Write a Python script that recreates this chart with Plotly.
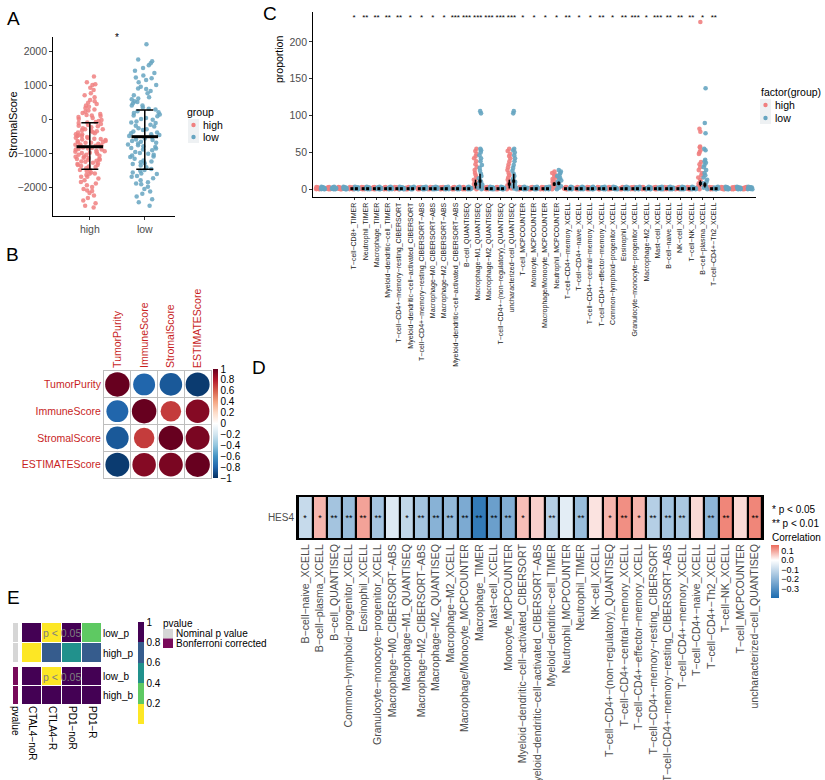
import numpy as np
import plotly.graph_objects as go

W, H = 825, 780
FONT = "Liberation Sans, Arial, sans-serif"
HIGH = "#F08080"
LOW = "#66A5C1"
RED_TXT = "#C81E1E"

def xd(a, b):
    return [a / W, b / W]

def yd(t, b):
    return [1 - b / H, 1 - t / H]

def px(x):
    return x / W

def py(y):
    return 1 - y / H

def mn(s):
    return s.replace("-", "\u2212")

# ---------------- Panel A data ----------------
a_groups = ["high", "low"]
a_high = [1250, 1080, 1020, 1000, 920, 850, 760, 700, 640, 560, 520, 480, 440, 400, 360, 320,
          280, 250, 210, 180, 150, 120, 90, 60, 30, 0, -30, -60, -90, -120, -150, -180, -210,
          -240, -270, -300, -330, -360, -390, -420, -450, -480, -500, -530, -560, -590, -620,
          -650, -680, -700, -730, -760, -790, -810, -840, -870, -900, -930, -960, -990, -1020,
          -1050, -1080, -1110, -1140, -1170, -1200, -1230, -1260, -1290, -1320, -1350, -1380,
          -1410, -1450, -1490, -1530, -1570, -1610, -1650, -1700, -1750, -1800, -1850, -1900,
          -1950, -2000, -2060, -2120, -2180, -2250, -2320, -2400, -2480, -2550, -2600,
          -400, -600, -800, -900, -1000, -1100, -1200, -700, -500, -300, -1300, -1500, -850,
          -950, -1050, -650, -750, -550, -450, -350, -1150, -1250, -1400, -1600,
          -200, -100, 100, -880, -980, -1180, -1350, -1700, -2100, -780, -680, -580]
a_low = [2200, 1750, 1700, 1640, 1580, 1500, 1420, 1350, 1280, 1220, 1150, 1080, 1000, 950,
         880, 820, 760, 700, 640, 580, 520, 460, 400, 340, 280, 230, 180, 130, 80, 30, -20,
         -70, -120, -170, -220, -270, -320, -370, -420, -470, -520, -570, -620, -670, -720,
         -770, -820, -870, -920, -970, -1020, -1070, -1120, -1170, -1220, -1270, -1320, -1370,
         -1420, -1470, -1520, -1570, -1620, -1680, -1740, -1800, -1860, -1920, -1990, -2060,
         -2130, -2200, -2280, -2360, -2450, -2550, -300, -500, -700, -900, -1100, -200, -400,
         -600, -800, -1000, 0, 200, 400, -1300, -1500, 600, 1200, -1700, -1900,
         -100, 100, 300, 500, -650, -750, -1250, -1050, -850, -450, 900, -1600]
a_center = [-815, -520]
a_err_up = [707, 785]
a_err_dn = [665, 960]

# ---------------- Panel B data ----------------
b_names = ["TumorPurity", "ImmuneScore", "StromalScore", "ESTIMATEScore"]
b_corr = [[1.00, -0.80, -0.85, -0.96],
          [-0.80, 1.00, 0.70, 0.92],
          [-0.85, 0.70, 1.00, 0.95],
          [-0.96, 0.92, 0.95, 1.00]]
b_palette = ["#053061", "#2166AC", "#4393C3", "#92C5DE", "#D1E5F0", "#FFFFFF",
             "#FDDBC7", "#F4A582", "#D6604D", "#B2182B", "#67001F"]
b_ticks = [1, 0.8, 0.6, 0.4, 0.2, 0, -0.2, -0.4, -0.6, -0.8, -1]

# ---------------- Panel C data ----------------
c_cells = ["T-cell-CD8+_TIMER", "Neutrophil_TIMER", "Macrophage_TIMER",
           "Myeloid-dendritic-cell_TIMER", "T-cell-CD4+-memory-resting_CIBERSORT",
           "Myeloid-dendritic-cell-activated_CIBERSORT",
           "T-cell-CD4+-memory-resting_CIBERSORT-ABS", "Macrophage-M0_CIBERSORT-ABS",
           "Macrophage-M2_CIBERSORT-ABS", "Myeloid-dendritic-cell-activated_CIBERSORT-ABS",
           "B-cell_QUANTISEQ", "Macrophage-M1_QUANTISEQ", "Macrophage-M2_QUANTISEQ",
           "T-cell-CD4+-(non-regulatory)_QUANTISEQ", "uncharacterized-cell_QUANTISEQ",
           "T-cell_MCPCOUNTER", "Monocyte_MCPCOUNTER", "Macrophage/Monocyte_MCPCOUNTER",
           "Neutrophil_MCPCOUNTER", "T-cell-CD4+-memory_XCELL", "T-cell-CD4+-naive_XCELL",
           "T-cell-CD4+-central-memory_XCELL", "T-cell-CD4+-effector-memory_XCELL",
           "Common-lymphoid-progenitor_XCELL", "Eosinophil_XCELL",
           "Granulocyte-monocyte-progenitor_XCELL", "Macrophage-M2_XCELL", "Mast-cell_XCELL",
           "B-cell-naive_XCELL", "NK-cell_XCELL", "T-cell-NK_XCELL", "B-cell-plasma_XCELL",
           "T-cell-CD4+-Th2_XCELL"]
c_stars = ["*", "**", "**", "**", "**", "*", "*", "*", "*", "***", "***", "***", "***", "***",
           "***", "*", "*", "*", "*", "**", "*", "*", "**", "*", "**", "***", "*", "***", "**",
           "**", "**", "*", "**"]
c_pad_left = 3
c_pad_right = 3
c_base_high = [0, 0.2, 0.4, 0.7, 1.0, 1.3, 1.7, 2.1, 2.6, 3.0]
c_base_low = [0, 0.2, 0.5, 0.8, 1.1, 1.5, 1.9, 2.3, 2.8, 3.4]
c_spike_high = {
    "Macrophage-M1_QUANTISEQ": [0, 1, 2, 3, 5, 7, 9, 11, 13, 16, 19, 22, 26, 30, 34, 38, 42, 45, 48, 52, 55],
    "uncharacterized-cell_QUANTISEQ": [0, 1, 2, 3, 5, 7, 9, 11, 13, 16, 19, 22, 26, 30, 34, 38, 42, 45, 48, 52, 55],
    "Neutrophil_MCPCOUNTER": [0, 2, 4, 6, 8, 10, 12, 14, 16, 18, 20, 22, 24],
    "B-cell-plasma_XCELL": [0, 2, 4, 6, 8, 10, 13, 16, 19, 22, 26, 30, 34, 37, 48, 50, 53, 57, 58, 78, 82, 227],
}
c_spike_low = {
    "Macrophage-M1_QUANTISEQ": [0, 1, 2, 4, 6, 8, 10, 12, 15, 18, 21, 25, 29, 33, 38, 42, 46, 50, 53, 55, 103, 106],
    "uncharacterized-cell_QUANTISEQ": [0, 1, 2, 4, 6, 8, 10, 12, 15, 18, 21, 25, 29, 33, 38, 42, 46, 50, 53, 55, 103, 106],
    "Neutrophil_MCPCOUNTER": [0, 2, 4, 6, 8, 10, 12, 14, 16, 18, 20, 22, 24, 26],
    "B-cell-plasma_XCELL": [0, 2, 4, 6, 8, 10, 13, 16, 19, 22, 26, 30, 33, 36, 38, 40, 53, 55, 76, 90, 137],
}
c_base_mean = 0.8
c_mean_high = {"Macrophage-M1_QUANTISEQ": 7, "uncharacterized-cell_QUANTISEQ": 7,
               "Neutrophil_MCPCOUNTER": 7, "B-cell-plasma_XCELL": 8}
c_err_high = {"Macrophage-M1_QUANTISEQ": 6, "uncharacterized-cell_QUANTISEQ": 6,
              "Neutrophil_MCPCOUNTER": 2.5, "B-cell-plasma_XCELL": 4}
c_mean_low = {"Macrophage-M1_QUANTISEQ": 11, "uncharacterized-cell_QUANTISEQ": 11,
              "Neutrophil_MCPCOUNTER": 8, "B-cell-plasma_XCELL": 6}
c_err_low = {"Macrophage-M1_QUANTISEQ": 10, "uncharacterized-cell_QUANTISEQ": 10,
             "Neutrophil_MCPCOUNTER": 2.5, "B-cell-plasma_XCELL": 3.5}
c_star_level = 233
c_dodge = 0.2

# ---------------- Panel D data ----------------
d_cells = ["B-cell-naive_XCELL", "B-cell-plasma_XCELL", "B-cell_QUANTISEQ",
           "Common-lymphoid-progenitor_XCELL", "Eosinophil_XCELL",
           "Granulocyte-monocyte-progenitor_XCELL", "Macrophage-M0_CIBERSORT-ABS",
           "Macrophage-M1_QUANTISEQ", "Macrophage-M2_CIBERSORT-ABS", "Macrophage-M2_QUANTISEQ",
           "Macrophage-M2_XCELL", "Macrophage/Monocyte_MCPCOUNTER", "Macrophage_TIMER",
           "Mast-cell_XCELL", "Monocyte_MCPCOUNTER", "Myeloid-dendritic-cell-activated_CIBERSORT",
           "Myeloid-dendritic-cell-activated_CIBERSORT-ABS", "Myeloid-dendritic-cell_TIMER",
           "Neutrophil_MCPCOUNTER", "Neutrophil_TIMER", "NK-cell_XCELL",
           "T-cell-CD4+-(non-regulatory)_QUANTISEQ", "T-cell-CD4+-central-memory_XCELL",
           "T-cell-CD4+-effector-memory_XCELL", "T-cell-CD4+-memory-resting_CIBERSORT",
           "T-cell-CD4+-memory-resting_CIBERSORT-ABS", "T-cell-CD4+-memory_XCELL",
           "T-cell-CD4+-naive_XCELL", "T-cell-CD4+-Th2_XCELL", "T-cell-NK_XCELL",
           "T-cell_MCPCOUNTER", "uncharacterized-cell_QUANTISEQ"]
d_corr = [-0.10, 0.08, -0.16, -0.18, 0.10, -0.16, -0.06, -0.11, -0.16, -0.21, -0.19, -0.23,
          -0.36, -0.26, -0.22, 0.07, 0.05, -0.13, -0.05, -0.18, 0.03, 0.08, 0.12, 0.08, -0.13,
          -0.16, -0.15, 0.04, -0.20, 0.13, 0.04, 0.13]
d_sig = ["*", "*", "**", "**", "**", "**", "", "*", "**", "**", "**", "**", "**", "**", "**",
         "*", "", "**", "", "**", "", "*", "**", "*", "**", "**", "**", "", "**", "**", "", "**"]
d_gene = "HES4"
d_ticks = [0.1, 0.0, -0.1, -0.2, -0.3]
d_ticktext = ["0.1", "0.0", "\u22120.1", "\u22120.2", "\u22120.3"]

# ---------------- Panel E data ----------------
e_cols = ["CTAL4-noR", "CTLA4-R", "PD1-noR", "PD1-R"]
e_rows_p = ["low_p", "high_p"]
e_rows_b = ["low_b", "high_b"]
e_p = [[0.92, 0.03, 0.93, 0.30],
       [0.10, 0.70, 0.50, 0.70]]
e_b = [[1.00, 0.04, 1.00, 1.00],
       [1.00, 1.00, 1.00, 1.00]]
e_annot = ["Nominal p value", "Bonferroni corrected"]
e_ticks = [0.2, 0.4, 0.6, 0.8, 1]
E_GRAY = "#D6D6D6"
E_PURPLE = "#780A5A"
vir = ["#FDE725", "#5EC962", "#21918C", "#365C8D", "#440154"]

fig = go.Figure()

# ---------- Panel A ----------
for g, vals, col in [("high", a_high, HIGH), ("low", a_low, LOW)]:
    fig.add_trace(go.Box(x=[g] * len(vals), y=vals, boxpoints="all", jitter=1, pointpos=0,
                         marker=dict(color=col, size=4.5, opacity=0.85),
                         fillcolor="rgba(0,0,0,0)", line=dict(color="rgba(0,0,0,0)", width=0),
                         width=0.62, offsetgroup="A", hoverinfo="skip",
                         xaxis="x", yaxis="y"))
fig.add_trace(go.Scatter(x=a_groups, y=a_center, mode="markers",
                         marker=dict(symbol="line-ew", size=19, color="black",
                                     line=dict(width=3, color="black")),
                         error_y=dict(type="data", symmetric=False, array=a_err_up,
                                      arrayminus=a_err_dn, color="black", thickness=1.5, width=8.5),
                         xaxis="x", yaxis="y", hoverinfo="skip"))

# ---------- Panel B ----------
bx, by, bv = [], [], []
for i in range(4):
    for j in range(4):
        bx.append(j)
        by.append(i)
        bv.append(b_corr[i][j])
bv = np.array(bv)
b_scale = [[k / 10, c] for k, c in enumerate(b_palette)]
fig.add_trace(go.Scatter(x=bx, y=by, mode="markers",
                         marker=dict(size=24.5 * np.sqrt(np.abs(bv)), color=bv, colorscale=b_scale,
                                     cmin=-1, cmax=1, opacity=1, line=dict(width=0), showscale=True,
                                     colorbar=dict(x=px(212.5), xanchor="left", y=py(423.5),
                                                   yanchor="middle", len=109 / H, thickness=4.5,
                                                   xpad=0, ypad=0, outlinewidth=0, ticks="",
                                                   tickvals=b_ticks,
                                                   tickfont=dict(size=10, color="black", family=FONT))),
                         xaxis="x2", yaxis="y2", hoverinfo="skip"))

# ---------- Panel C ----------
c_labels = [""] * c_pad_left + c_cells + [""] * c_pad_right
c_pos = list(range(len(c_labels)))
for key, base, spikes, col in [("high", c_base_high, c_spike_high, HIGH),
                               ("low", c_base_low, c_spike_low, LOW)]:
    xs, ys = [], []
    for p, name in zip(c_pos, c_labels):
        vals = spikes.get(name, base)
        xs += [p] * len(vals)
        ys += vals
    fig.add_trace(go.Box(x=xs, y=ys, boxpoints="all", jitter=1, pointpos=0,
                         marker=dict(color=col, size=4.6, opacity=0.9),
                         fillcolor="rgba(0,0,0,0)", line=dict(color="rgba(0,0,0,0)", width=0),
                         offsetgroup=key, hoverinfo="skip", xaxis="x3", yaxis="y3"))
named_pos = [p for p, n in zip(c_pos, c_labels) if n]
for sign, means, errs in [(-1, c_mean_high, c_err_high), (1, c_mean_low, c_err_low)]:
    mx = [p + sign * c_dodge for p in named_pos]
    my = [means.get(n, c_base_mean) for n in c_cells]
    me = [errs.get(n, 0) for n in c_cells]
    fig.add_trace(go.Scatter(x=mx, y=my, mode="markers",
                             marker=dict(symbol="square", size=3, color="black"),
                             error_y=dict(type="data", array=me, color="black", thickness=1.5, width=0),
                             xaxis="x3", yaxis="y3", hoverinfo="skip"))
fig.add_trace(go.Scatter(x=named_pos, y=[c_star_level] * len(named_pos), mode="text", text=c_stars,
                         textfont=dict(size=8, color="black", family=FONT),
                         xaxis="x3", yaxis="y3", hoverinfo="skip"))

# ---------- Panel D ----------
d_scale = [[0, "#1C6CB0"], [0.40 / 0.56, "#FFFFFF"], [1, "#EC6A5A"]]
fig.add_trace(go.Heatmap(z=[d_corr], x=list(range(len(d_cells))), y=[0], text=[d_sig],
                         texttemplate="%{text}", textfont=dict(size=9, color="black", family=FONT),
                         colorscale=d_scale, zmin=-0.40, zmax=0.16, xgap=2.2, ygap=0,
                         colorbar=dict(x=px(771), xanchor="left", y=py(571.5), yanchor="middle",
                                       len=53 / H, thickness=8, xpad=0, ypad=0, outlinewidth=0,
                                       ticks="", tickvals=d_ticks, ticktext=d_ticktext,
                                       tickfont=dict(size=9, color="black", family=FONT)),
                         xaxis="x4", yaxis="y4", hoverinfo="skip"))

# ---------- Panel E ----------
e_scale = []
for k, c in enumerate(vir):
    e_scale.append([k / 5, c])
    e_scale.append([(k + 1) / 5, c])
fig.add_trace(go.Heatmap(z=e_p, x=list(range(4)), y=[0, 1], colorscale=e_scale, zmin=0, zmax=1,
                         xgap=1, ygap=1, showscale=True,
                         colorbar=dict(x=px(138), xanchor="left", y=py(673), yanchor="middle",
                                       len=102 / H, thickness=6, xpad=0, ypad=0, outlinewidth=0,
                                       ticks="", tickvals=e_ticks,
                                       tickfont=dict(size=10, color="black", family=FONT)),
                         xaxis="x5", yaxis="y5", hoverinfo="skip"))
fig.add_trace(go.Heatmap(z=e_b, x=list(range(4)), y=[0, 1], colorscale=e_scale, zmin=0, zmax=1,
                         xgap=1, ygap=1, showscale=False, xaxis="x6", yaxis="y6", hoverinfo="skip"))
a_scale = [[0, E_GRAY], [1, E_PURPLE]]
fig.add_trace(go.Heatmap(z=[[0], [0]], x=[0], y=[0, 1], colorscale=a_scale, zmin=0, zmax=1,
                         ygap=1, showscale=False, xaxis="x7", yaxis="y7", hoverinfo="skip"))
fig.add_trace(go.Heatmap(z=[[1], [1]], x=[0], y=[0, 1], colorscale=a_scale, zmin=0, zmax=1,
                         ygap=1, showscale=False, xaxis="x8", yaxis="y8", hoverinfo="skip"))

# ---------- Layout ----------
gray_tick = dict(size=10.5, color="#4D4D4D", family=FONT)
base_ax = dict(showgrid=False, zeroline=False, automargin=False)
layout = dict(
    width=W, height=H, margin=dict(l=0, r=0, t=0, b=0, pad=0, autoexpand=False),
    paper_bgcolor="white",
    plot_bgcolor="white", showlegend=False, boxmode="group", boxgap=0.1, boxgroupgap=0.0,
    font=dict(family=FONT, size=10, color="black"),
    xaxis=dict(base_ax, domain=xd(53, 175), anchor="y", type="category", categoryorder="array",
               categoryarray=a_groups, range=[-0.67, 1.55], showline=True, linecolor="black",
               linewidth=0.8, ticks="outside", ticklen=3, tickcolor="#333", tickfont=gray_tick),
    yaxis=dict(base_ax, domain=yd(37, 216), anchor="x", range=[-2853, 2412],
               tickvals=[-2000, -1000, 0, 1000, 2000], showline=True, linecolor="black",
               linewidth=0.8, ticks="outside", ticklen=3, tickcolor="#333", tickfont=gray_tick),
    xaxis2=dict(base_ax, domain=xd(104, 211), anchor="y2", range=[-0.5, 3.5], side="top",
                tickmode="array", tickvals=[0, 1, 2, 3], ticktext=b_names, tickangle=-90,
                tickfont=dict(size=10.5, color=RED_TXT, family=FONT), ticks="", showline=True,
                mirror=True, linecolor="#BEBEBE", linewidth=1,
                minor=dict(tickmode="array", tickvals=[0.5, 1.5, 2.5], showgrid=True,
                           gridcolor="#BEBEBE", gridwidth=1, ticks="")),
    yaxis2=dict(base_ax, domain=yd(371, 478), anchor="x2", range=[3.5, -0.5], tickmode="array",
                tickvals=[0, 1, 2, 3], ticktext=b_names,
                tickfont=dict(size=10.5, color=RED_TXT, family=FONT), ticks="", showline=True,
                mirror=True, linecolor="#BEBEBE", linewidth=1,
                minor=dict(tickmode="array", tickvals=[0.5, 1.5, 2.5], showgrid=True,
                           gridcolor="#BEBEBE", gridwidth=1, ticks="")),
    xaxis3=dict(base_ax, domain=xd(313, 756), anchor="y3", range=[-0.66, 38.75],
                tickmode="array", tickvals=named_pos, ticktext=[mn(c) for c in c_cells],
                tickangle=-90, tickfont=dict(size=7, color="#222", family=FONT),
                ticks="outside", ticklen=2, tickcolor="#333", showline=True, linecolor="black",
                linewidth=0.8),
    yaxis3=dict(base_ax, domain=yd(12, 197), anchor="x3", range=[-10.5, 240.5],
                tickvals=[0, 50, 100, 150, 200], showline=True, linecolor="black", linewidth=0.8,
                ticks="outside", ticklen=3, tickcolor="#333", tickfont=gray_tick),
    xaxis4=dict(base_ax, domain=xd(298, 762), anchor="y4", range=[-0.5, len(d_cells) - 0.5],
                tickmode="array", tickvals=list(range(len(d_cells))),
                ticktext=[mn(c) for c in d_cells], tickangle=-90,
                tickfont=dict(size=10.5, color="#4D4D4D", family=FONT), ticks="",
                showline=True, mirror=True, linecolor="black", linewidth=2),
    yaxis4=dict(base_ax, domain=yd(497, 538), anchor="x4", range=[-0.5, 0.5], tickmode="array",
                tickvals=[0], ticktext=[d_gene], tickfont=dict(size=10, color="#4D4D4D", family=FONT),
                ticks="", showline=True, mirror=True, linecolor="black", linewidth=2),
    xaxis5=dict(base_ax, domain=xd(22, 102), anchor="y5", range=[-0.5, 3.5], showticklabels=False,
                ticks=""),
    yaxis5=dict(base_ax, domain=yd(623, 663), anchor="x5", range=[1.5, -0.5], side="right",
                tickmode="array", tickvals=[0, 1], ticktext=e_rows_p,
                tickfont=dict(size=10, color="black", family=FONT), ticks=""),
    xaxis6=dict(base_ax, domain=xd(22, 102), anchor="y6", range=[-0.5, 3.5], tickmode="array",
                tickvals=[0, 1, 2, 3], ticktext=[mn(c) for c in e_cols], tickangle=90,
                tickfont=dict(size=10, color="black", family=FONT), ticks=""),
    yaxis6=dict(base_ax, domain=yd(667, 705), anchor="x6", range=[1.5, -0.5], side="right",
                tickmode="array", tickvals=[0, 1], ticktext=e_rows_b,
                tickfont=dict(size=10, color="black", family=FONT), ticks=""),
    xaxis7=dict(base_ax, domain=xd(13, 18), anchor="y7", range=[-0.5, 0.5], showticklabels=False,
                ticks=""),
    yaxis7=dict(base_ax, domain=yd(623, 663), anchor="x7", range=[1.5, -0.5],
                showticklabels=False, ticks=""),
    xaxis8=dict(base_ax, domain=xd(13, 18), anchor="y8", range=[-0.5, 0.5], tickmode="array",
                tickvals=[0], ticktext=["pvalue"], tickangle=90,
                tickfont=dict(size=10, color="black", family=FONT), ticks=""),
    yaxis8=dict(base_ax, domain=yd(667, 705), anchor="x8", range=[1.5, -0.5],
                showticklabels=False, ticks=""),
)

ann = []
def text(x, y, s, size=10.5, xanchor="left", color="black", angle=0):
    ann.append(dict(x=px(x), y=py(y), xref="paper", yref="paper", text=s, showarrow=False,
                    xanchor=xanchor, yanchor="middle", textangle=angle, borderpad=0,
                    font=dict(size=size, color=color, family=FONT)))

for letter, (lx, ly) in zip("ABCDE", [(13, 18), (12, 255), (270, 13), (259, 367), (13, 597)]):
    text(lx, ly, letter, size=19, xanchor="center")
text(13, 125, "StromalScore", size=11, xanchor="center", angle=-90)
text(279, 60, "proportion", size=10.5, xanchor="center", angle=-90)
# A legend
text(186, 112, "group")
text(202, 125, a_groups[0])
text(202, 137, a_groups[1])
# C legend
text(760, 92, "factor(group)")
text(774, 105, a_groups[0])
text(774, 118, a_groups[1])
# D legend
text(771, 509, "* p < 0.05", size=10)
text(771, 523, "** p < 0.01", size=10)
text(771, 537, "Correlation", size=10)
# E legend
text(162, 623, "pvalue", size=10)
text(175, 633.5, e_annot[0], size=10)
text(175, 643.5, e_annot[1], size=10)
# A significance star
ann.append(dict(x=0.5, y=2400, xref="x", yref="y", text="*", showarrow=False,
                font=dict(size=10, color="black", family=FONT)))
# E text inside cells
for yr, axn in [(0, "5"), (0, "6")]:
    ann.append(dict(x=1.5, y=yr, xref="x" + axn, yref="y" + axn, text="p < 0.05", showarrow=False,
                    xanchor="center", font=dict(size=10.5, color="#7F7F7F", family=FONT)))
layout["annotations"] = ann

shapes = []
def rect(x0, y0, x1, y1, color):
    shapes.append(dict(type="rect", xref="paper", yref="paper", x0=px(x0), x1=px(x1),
                       y0=py(y1), y1=py(y0), fillcolor=color, line=dict(width=0)))
def dot(cx, cy, r, color):
    shapes.append(dict(type="circle", xref="paper", yref="paper", x0=px(cx - r), x1=px(cx + r),
                       y0=py(cy + r), y1=py(cy - r), fillcolor=color, line=dict(width=0)))

rect(188, 119, 199, 143, "#EEF1F3")
dot(193.5, 125, 2.2, HIGH)
dot(193.5, 137, 2.2, LOW)
rect(760, 99, 771, 124, "#EEF1F3")
dot(765.5, 105, 2.2, HIGH)
dot(765.5, 118, 2.2, LOW)
rect(163, 629, 173, 638.5, E_GRAY)
rect(163, 638.5, 173, 648, E_PURPLE)
shapes.append(dict(type="rect", xref="x4 domain", yref="y4 domain", x0=0, x1=1, y0=0, y1=1,
                   fillcolor="black", line=dict(width=0), layer="below"))
layout["shapes"] = shapes

fig.update_layout(**layout)
fig.write_html("out.html", config={"displayModeBar": False},
               post_script=("document.documentElement.style.margin='0';"
                            "document.documentElement.style.overflow='hidden';"
                            "document.body.style.margin='0';document.body.style.padding='0';"
                            "document.body.style.overflow='hidden';"))
